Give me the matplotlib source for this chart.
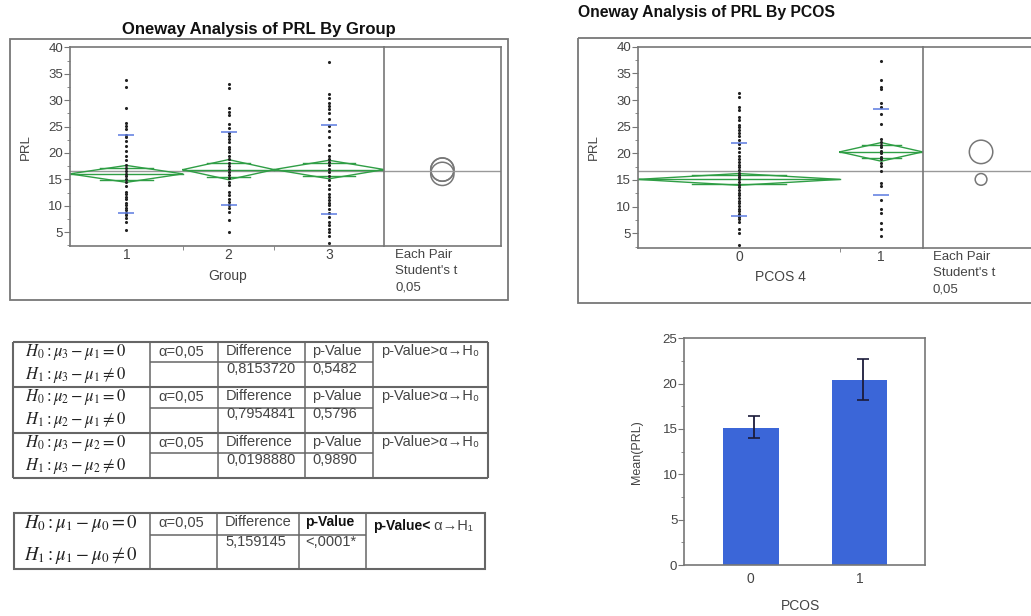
import numpy as np
import matplotlib.pyplot as plt
from matplotlib.patches import Rectangle, Circle

plt.rcParams['font.family'] = ['Liberation Sans', 'DejaVu Sans']
plt.rcParams['mathtext.fontset'] = 'stix'

W, H = 1031, 616

# Données : PRL par groupe
grp_labels = ["1", "2", "3"]
grp_n = [37, 30, 36]
grp_mean = [16.05, 16.85, 16.87]
grp_ci = [1.6, 1.9, 1.75]
grp_sd_hi = [23.4, 23.9, 25.3]
grp_sd_lo = [8.7, 10.1, 8.5]
prl_g1 = [33.8, 32.4, 28.6, 25.7, 25.1, 24.5, 23.4, 23.0, 22.3, 21.4, 20.4, 19.5,
          18.7, 17.7, 17.1, 16.6, 16.1, 15.6, 15.1, 14.5, 13.7, 12.7, 12.2, 11.7,
          11.2, 10.6, 10.1, 9.6, 9.2, 8.7, 8.2, 7.7, 7.0, 5.4]
prl_g2 = [33.1, 32.3, 28.5, 27.8, 27.2, 25.5, 24.8, 23.8, 23.3, 22.7, 22.1, 21.2,
          20.7, 20.1, 19.4, 18.8, 18.2, 17.5, 17.0, 16.4, 15.9, 15.3, 14.6, 14.0,
          12.6, 12.0, 11.3, 10.7, 10.1, 9.6, 8.9, 7.4, 5.0]
prl_g3 = [37.3, 31.2, 30.5, 29.5, 28.9, 28.3, 27.5, 26.4, 25.2, 24.1, 23.1, 21.6,
          20.6, 19.5, 18.9, 18.3, 17.7, 17.0, 16.4, 15.6, 14.9, 14.0, 13.2, 12.3,
          11.7, 11.1, 10.6, 10.1, 9.4, 8.6, 7.8, 7.0, 6.4, 5.7, 5.0, 4.3, 3.0]
grand_mean = 16.6
circ_r_grp = [2.2, 2.2, 2.2]

# Données : PRL par PCOS
pcos_labels = ["0", "1"]
pcos_n = [73, 30]
pcos_mean = [15.11, 20.27]
pcos_ci = [1.1, 1.75]
pcos_sd_hi = [22.0, 28.4]
pcos_sd_lo = [8.2, 12.1]
prl_p0 = [31.25, 30.6, 28.6, 28.1, 26.75, 26.25, 25.25, 24.9, 24.4, 23.75, 23.25,
          22.5, 21.75, 21.0, 20.25, 19.5, 18.9, 18.4, 17.9, 17.4, 16.9, 16.4, 15.9,
          15.5, 15.1, 14.6, 14.1, 13.6, 13.1, 12.6, 12.1, 11.6, 11.1, 10.6, 10.1,
          9.6, 9.1, 8.6, 8.1, 7.6, 7.1, 5.75, 5.0, 2.75]
prl_p1 = [37.4, 33.75, 32.5, 32.0, 29.4, 28.6, 27.4, 25.5, 22.75, 22.1, 21.6, 21.1,
          20.5, 20.0, 19.4, 18.9, 18.25, 17.6, 16.6, 14.5, 13.9, 11.25, 9.5, 8.9,
          7.0, 5.75, 4.5]
circ_r_pcos = [1.1, 2.2]

# Moyennes (barres)
bar_labels = ["0", "1"]
bar_mean = [15.15, 20.35]
bar_lo = [14.05, 18.2]
bar_hi = [16.45, 22.7]

# Tableaux
t1_h0 = [r"$H_0 : \mu_3 - \mu_1 = 0$", r"$H_0 : \mu_2 - \mu_1 = 0$", r"$H_0 : \mu_3 - \mu_2 = 0$"]
t1_h1 = [r"$H_1 : \mu_3 - \mu_1 \neq 0$", r"$H_1 : \mu_2 - \mu_1 \neq 0$", r"$H_1 : \mu_3 - \mu_2 \neq 0$"]
t1_diff = ["0,8153720", "0,7954841", "0,0198880"]
t1_p = ["0,5482", "0,5796", "0,9890"]
t2_h0 = r"$H_0 : \mu_1 - \mu_0 = 0$"
t2_h1 = r"$H_1 : \mu_1 - \mu_0 \neq 0$"
t2_diff = "5,159145"
t2_p = "<,0001*"

green = '#2f9e45'
blue = '#5b7be0'
grey = '#777777'
txt = '#444444'

fig = plt.figure(figsize=(W/100, H/100), dpi=100)


def px_axes(x0, y0, x1, y1):
    return fig.add_axes([x0/W, 1 - y1/H, (x1 - x0)/W, (y1 - y0)/H])


ov = fig.add_axes([0, 0, 1, 1], zorder=0)
ov.set_xlim(0, W)
ov.set_ylim(H, 0)
ov.axis('off')

# cadres extérieurs + titres
ov.add_patch(Rectangle((10, 39), 497.7, 261, fill=False, ec=grey, lw=1.3))
ov.add_patch(Rectangle((578, 38), 470, 265, fill=False, ec=grey, lw=1.3))
ov.text(259, 34, "Oneway Analysis of PRL By Group", ha='center', va='baseline',
        fontsize=12, fontweight='bold', color='#111')
ov.text(578, 17, "Oneway Analysis of PRL By PCOS", ha='left', va='baseline',
        fontsize=11.3, fontweight='bold', color='#111')


def style(ax):
    for s in ax.spines.values():
        s.set_color(grey)
        s.set_linewidth(1.2)


def oneway(ax, cax, data, n, means, ci, sd_hi, sd_lo, labels, radii, ylim):
    edges = np.concatenate([[0], np.cumsum(n)])
    centers = (edges[:-1] + edges[1:]) / 2
    ax.axhline(grand_mean, color='#999', lw=1, zorder=1)
    for i, vals in enumerate(data):
        l, r, c, m, h = edges[i], edges[i+1], centers[i], means[i], ci[i]
        ax.plot([l, c, r, c, l], [m, m + h, m, m - h, m], color=green, lw=1, zorder=2)
        ax.plot([l, r], [m, m], color=green, lw=1, zorder=2)
        o = h / np.sqrt(2)
        w = (1 - 1/np.sqrt(2)) * (r - l) / 2 * 1.6
        ax.plot([c - w, c + w], [m + o, m + o], color=green, lw=1, zorder=2)
        ax.plot([c - w, c + w], [m - o, m - o], color=green, lw=1, zorder=2)
        ax.scatter(np.full(len(vals), c), vals, s=5, color='#222', lw=0, zorder=3)
        ax.plot([c, c], [sd_hi[i], sd_lo[i]], ls='none', marker='_', ms=11, mew=1.1,
                color=blue, zorder=4)
    ax.set_xlim(edges[0], edges[-1])
    ax.set_ylim(ylim)
    ax.set_xticks(centers)
    ax.set_xticklabels(labels)
    ax.set_xticks(edges[1:-1], minor=True)
    ax.set_yticks([5, 10, 15, 20, 25, 30, 35, 40])
    ax.set_yticks(np.arange(2.5, 40, 2.5), minor=True)
    ax.tick_params(axis='x', which='major', length=0, pad=1.5, labelsize=10, labelcolor=txt)
    ax.tick_params(axis='x', which='minor', length=3, color=grey)
    ax.tick_params(axis='y', which='major', length=4, color=grey, labelsize=9.5,
                   labelcolor=txt, pad=1)
    ax.tick_params(axis='y', which='minor', length=2.5, color=grey)
    ax.set_ylabel("PRL", fontsize=9.5, color=txt, labelpad=12)
    ax.spines['right'].set_visible(False)
    style(ax)

    # cercles de comparaison
    cax.set_ylim(ylim)
    bb = cax.get_position()
    xr = bb.width * W / (bb.height * H) * (ylim[1] - ylim[0])
    cax.set_xlim(0, xr)
    cax.axhline(grand_mean, color='#999', lw=1)
    for m, rr in zip(means, radii):
        cax.add_patch(Circle((xr * 0.5, m), rr, fill=False, ec='#777', lw=1.1))
    cax.set_xticks([])
    cax.set_yticks([])
    style(cax)


ax1 = px_axes(70, 47.3, 384, 246)
cax1 = px_axes(384, 47.3, 500.7, 246)
oneway(ax1, cax1, [prl_g1, prl_g2, prl_g3], grp_n, grp_mean, grp_ci, grp_sd_hi,
       grp_sd_lo, grp_labels, circ_r_grp, (2.4, 40))
ov.text(228, 276, "Group", ha='center', va='center', fontsize=10, color=txt)

ax2 = px_axes(638, 46.7, 922.7, 247.7)
cax2 = px_axes(922.7, 46.7, 1039.4, 247.7)
oneway(ax2, cax2, [prl_p0, prl_p1], pcos_n, pcos_mean, pcos_ci, pcos_sd_hi,
       pcos_sd_lo, pcos_labels, circ_r_pcos, (2.3, 40))
ov.text(780, 277, "PCOS 4", ha='center', va='center', fontsize=10, color=txt)

for x0, y0 in ((395, 258), (932.7, 260)):
    for k, line in enumerate(["Each Pair", "Student's t", "0,05"]):
        ov.text(x0, y0 + 16.5 * k, line, ha='left', va='baseline', fontsize=9.5, color=txt)

# graphique en barres
ax3 = px_axes(684.3, 338.3, 925, 565)
xb = np.arange(len(bar_labels))
err = [np.array(bar_mean) - np.array(bar_lo), np.array(bar_hi) - np.array(bar_mean)]
ax3.bar(xb, bar_mean, width=0.51, color='#3b66d8', zorder=2)
ax3.errorbar(xb + 0.03, bar_mean, yerr=err, fmt='none', ecolor='#1b1b3a', elinewidth=1.3,
             capsize=4, capthick=1.2, zorder=3)
ax3.set_xlim(-0.61, 1.6)
ax3.set_ylim(0, 25)
ax3.set_xticks(xb)
ax3.set_xticklabels(bar_labels)
ax3.set_yticks(np.arange(0, 26, 5))
ax3.set_yticks(np.arange(2.5, 25, 2.5), minor=True)
ax3.tick_params(axis='x', length=0, pad=5, labelsize=10, labelcolor=txt)
ax3.tick_params(axis='y', which='major', length=4, color=grey, labelsize=9.5,
                labelcolor=txt, pad=1)
ax3.tick_params(axis='y', which='minor', length=2.5, color=grey)
ax3.set_ylabel("Mean(PRL)", fontsize=9, color=txt, labelpad=14)
style(ax3)
ov.text(800, 606, "PCOS", ha='center', va='center', fontsize=10, color=txt)


# tableaux
def hline(x0, x1, y, lw=1.1):
    ov.plot([x0, x1], [y, y], color='#666', lw=lw, solid_capstyle='butt')


def vline(x, y0, y1, lw=1.1):
    ov.plot([x, x], [y0, y1], color='#666', lw=lw, solid_capstyle='butt')


cols1 = [12.7, 150, 218, 305, 373, 488]
rows1 = [342, 387.3, 432.7, 478]
for k in range(3):
    top, bot = rows1[k], rows1[k + 1]
    mid = top + 20.3
    hline(cols1[0], cols1[-1], top, 1.5)
    hline(cols1[1], cols1[4], mid)
    ov.text(cols1[0] + 12, top + 10, t1_h0[k], fontsize=12, va='center', color='#222')
    ov.text(cols1[0] + 12, top + 33, t1_h1[k], fontsize=12, va='center', color='#222')
    ov.text(cols1[1] + 8, top + 10, "α=0,05", fontsize=10.5, va='center', color=txt)
    ov.text(cols1[2] + 8, top + 9, "Difference", fontsize=10.5, va='center', color=txt)
    ov.text(cols1[3] + 7, top + 9, "p-Value", fontsize=10.5, va='center', color=txt)
    ov.text(cols1[4] + 8, top + 9, "p-Value>α→H₀", fontsize=10.5, va='center', color=txt)
    ov.text(cols1[2] + 8, top + 27, t1_diff[k], fontsize=10.5, va='center', color=txt)
    ov.text(cols1[3] + 7, top + 27, t1_p[k], fontsize=10.5, va='center', color=txt)
hline(cols1[0], cols1[-1], rows1[-1], 1.5)
vline(cols1[0], rows1[0], rows1[-1], 1.5)
vline(cols1[-1], rows1[0], rows1[-1], 1.5)
for x in cols1[1:-1]:
    vline(x, rows1[0], rows1[-1])

cols2 = [14, 150, 217, 299, 366, 485]
rows2 = [513, 535, 569]
ov.add_patch(Rectangle((cols2[0], rows2[0]), cols2[-1] - cols2[0], rows2[-1] - rows2[0],
                       fill=False, ec='#666', lw=1.5))
for x in cols2[1:-1]:
    vline(x, rows2[0], rows2[-1])
hline(cols2[1], cols2[4], rows2[1])
ov.text(cols2[0] + 10, 524, t2_h0, fontsize=13.5, va='center', color='#222')
ov.text(cols2[0] + 10, 556, t2_h1, fontsize=13.5, va='center', color='#222')
ov.text(cols2[1] + 8, 523, "α=0,05", fontsize=10.5, va='center', color=txt)
ov.text(cols2[2] + 8, 522, "Difference", fontsize=10.5, va='center', color=txt)
ov.text(cols2[3] + 6, 522, "p-Value", fontsize=10, va='center', color='#111',
        fontweight='bold')
ov.text(cols2[2] + 8, 542, t2_diff, fontsize=10.5, va='center', color=txt)
ov.text(cols2[3] + 6, 542, t2_p, fontsize=10.5, va='center', color=txt)
t_conc = ov.text(cols2[4] + 7, 526, "p-Value<", fontsize=10, va='center', color='#111',
                 fontweight='bold')
ov.annotate(" α→H₁", xy=(1, 0.5), xycoords=t_conc, va='center', fontsize=10.5, color=txt)

fig.savefig("out.png", dpi=100)
